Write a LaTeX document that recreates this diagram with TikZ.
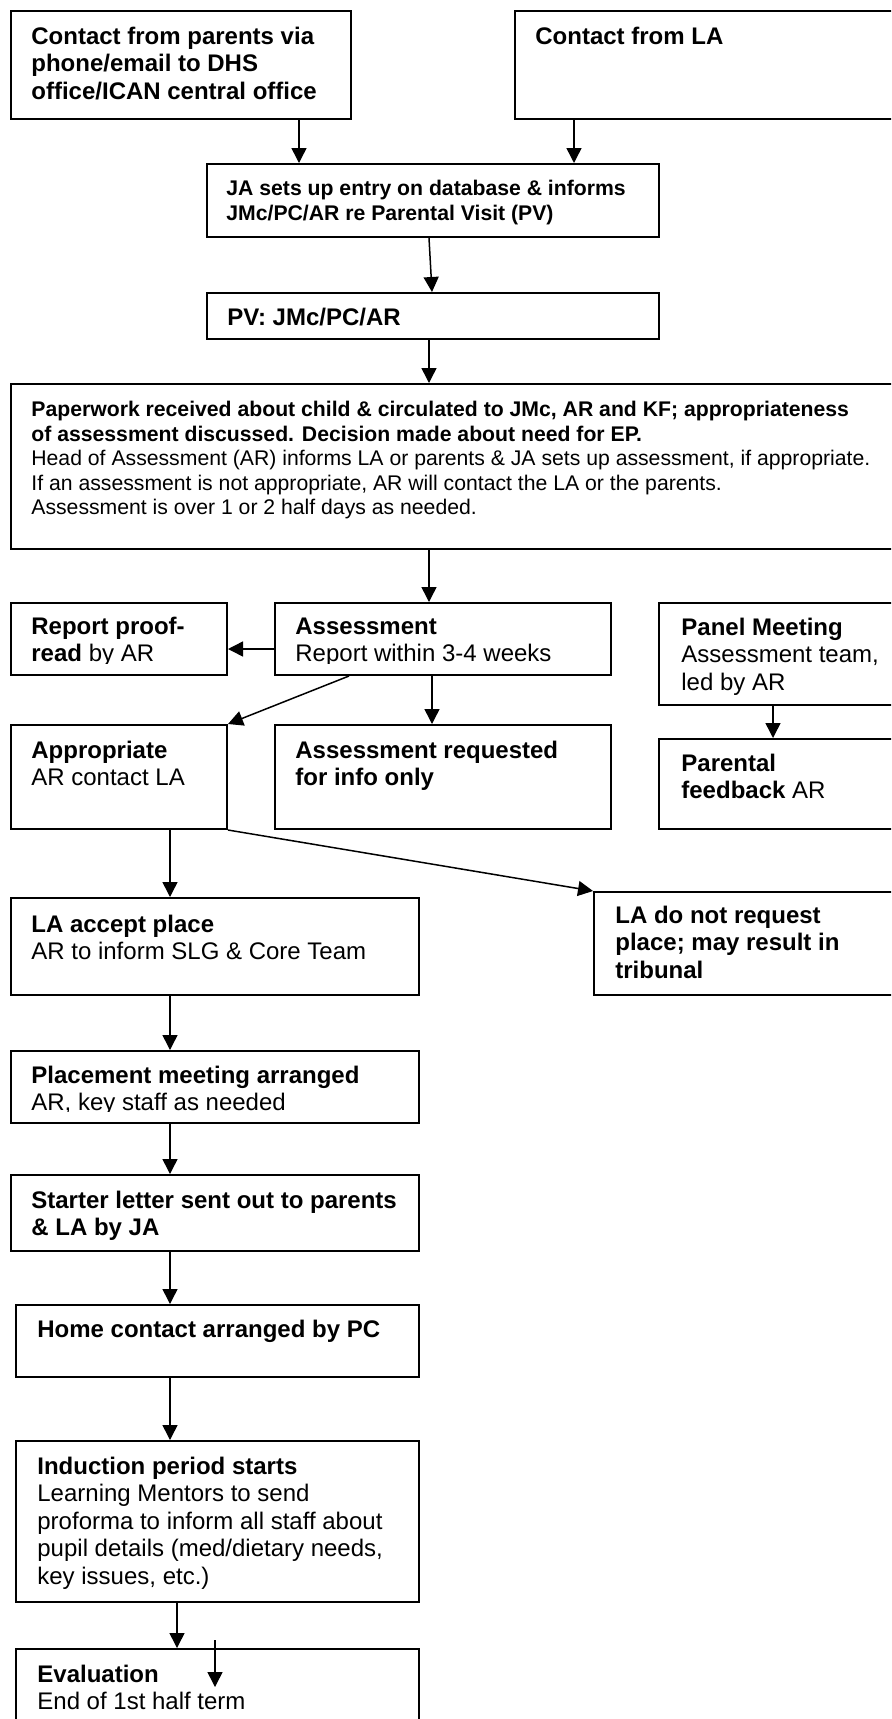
\documentclass[tikz,border=0pt]{standalone}
\usepackage{fontspec}
\setmainfont{Liberation Sans}
\usetikzlibrary{arrows.meta,fit}
\newcommand\fsA{\fontsize{12pt}{13.7pt}\selectfont}
\newcommand\fsB{\fontsize{10.6pt}{12.3pt}\selectfont}
\newcommand\rA{\rule{0pt}{10pt}}
\newcommand\rB{\rule{0pt}{9pt}}
\tikzset{
  box/.style={draw, line width=1pt, inner sep=0pt},
  txt/.style={anchor=north west, inner sep=0pt, align=left, font=\fsA},
  txts/.style={anchor=north west, inner sep=0pt, align=left, font=\fsB},
  arr/.style={-{Triangle[length=7.5pt,width=7.5pt]}, line width=0.75pt},
}
\begin{document}
\begin{tikzpicture}[x=0.5pt,y=-0.5pt]
\useasboundingbox (0,0) rectangle (891,1719);
\fill[white] (0,0) rectangle (891,1719);
\clip (0,0) rectangle (891,1719);

% boxes
\node[box, fit={(11,11)(351,119)}] (b1) {};
\node[box, fit={(515,11)(905,119)}] (b2) {};
\node[box, fit={(207,164)(659,237)}] (ja) {};
\node[box, fit={(207,293)(659,339)}] (pv) {};
\node[box, fit={(11,384)(905,549)}] (pw) {};
\node[box, fit={(11,603)(227,675)}] (pr) {};
\node[box, fit={(275,603)(611,675)}] (as) {};
\node[box, fit={(659,603)(905,705)}] (pm) {};
\node[box, fit={(11,725)(227,829)}] (ap) {};
\node[box, fit={(275,725)(611,829)}] (ar) {};
\node[box, fit={(659,739)(905,829)}] (pf) {};
\node[box, fit={(11,898)(419,995)}] (la) {};
\node[box, fit={(594,892)(905,995)}] (ln) {};
\node[box, fit={(11,1051)(419,1123)}] (pl) {};
\node[box, fit={(11,1175)(419,1251)}] (sl) {};
\node[box, fit={(16,1305)(419,1377)}] (hc) {};
\node[box, fit={(16,1441)(419,1602)}] (ip) {};
\node[box, fit={(16,1649)(419,1740)}] (ev) {};

% texts
\node[txt] (t1) at (31,24) {\rA\textbf{Contact from parents via}\\\textbf{phone/email to DHS}\\\textbf{office/ICAN central office}};
\node[txt] (t2) at (535,24) {\rA\textbf{Contact from LA}};
\node[txts] (t3) at (226,177) {\rB\textbf{JA sets up entry on database \& informs}\\\textbf{JMc/PC/AR re Parental Visit (PV)}};
\node[txt] (t4) at (227,305) {\rA\textbf{PV: JMc/PC/AR}};
\node[txts] (t5) at (31,398) {\rB\textbf{Paperwork received about child \& circulated to JMc, AR and KF; appropriateness}\\\textbf{of assessment discussed. Decision made about need for EP.}\\Head of Assessment (AR) informs LA or parents \& JA sets up assessment, if appropriate.\\If an assessment is not appropriate, AR will contact the LA or the parents.\\Assessment is over 1 or 2 half days as needed.};
\begin{scope}
\clip (11,603) rectangle (611,663.5);
\node[txt] (t6) at (31,614) {\rA\textbf{Report proof-}\\\textbf{read} by AR};
\node[txt] (t7) at (295,614) {\rA\textbf{Assessment}\\Report within 3-4 weeks};
\end{scope}
\node[txt] (t8) at (681,615) {\rA\textbf{Panel Meeting}\\Assessment team,\\led by AR};
\node[txt] (t9) at (31,738) {\rA\textbf{Appropriate}\\AR contact LA};
\node[txt] (t10) at (295,738) {\rA\textbf{Assessment requested}\\\textbf{for info only}};
\node[txt] (t11) at (681,751) {\rA\textbf{Parental}\\\textbf{feedback} AR};
\node[txt] (t12) at (31,912) {\rA\textbf{LA accept place}\\AR to inform SLG \& Core Team};
\node[txt] (t13) at (615,903) {\rA\textbf{LA do not request}\\\textbf{place; may result in}\\\textbf{tribunal}};
\begin{scope}
\clip (11,1051) rectangle (419,1111.5);
\node[txt] (t14) at (31,1063) {\rA\textbf{Placement meeting arranged}\\AR, key staff as needed};
\end{scope}
\node[txt] (t15) at (31,1188) {\rA\textbf{Starter letter sent out to parents}\\\textbf{\& LA by JA}};
\node[txt] (t16) at (37,1317) {\rA\textbf{Home contact arranged by PC}};
\node[txt] (t17) at (37,1454) {\rA\textbf{Induction period starts}\\Learning Mentors to send\\proforma to inform all staff about\\pupil details (med/dietary needs,\\key issues, etc.)};
\node[txt] (t18) at (37,1662) {\rA\textbf{Evaluation}\\End of 1st half term};

% connectors
\draw[arr] (299,0 |- b1.south) -- (299,0 |- ja.north);
\draw[arr] (574,0 |- b2.south) -- (574,0 |- ja.north);
\draw[arr] (429,0 |- ja.south) -- (432,0 |- pv.north);
\draw[arr] (429,0 |- pv.south) -- (429,0 |- pw.north);
\draw[arr] (429,0 |- pw.south) -- (429,0 |- as.north);
\draw[arr] (as.west |- 0,649) -- (pr.east |- 0,649);
\draw[arr] (432,0 |- as.south) -- (432,0 |- ar.north);
\draw[arr] (349,0 |- as.south) -- (ap.north east);
\draw[arr] (773,0 |- pm.south) -- (773,0 |- pf.north);
\draw[arr] (170,0 |- ap.south) -- (170,0 |- la.north);
\draw[arr] (ap.south east) -- (ln.north west);
\draw[arr] (170,0 |- la.south) -- (170,0 |- pl.north);
\draw[arr] (170,0 |- pl.south) -- (170,0 |- sl.north);
\draw[arr] (170,0 |- sl.south) -- (170,0 |- hc.north);
\draw[arr] (170,0 |- hc.south) -- (170,0 |- ip.north);
\draw[arr] (177,0 |- ip.south) -- (177,0 |- ev.north);
\coordinate (e1) at (215,1640);
\coordinate (e2) at (215,1687);
\draw[arr] (e1) -- (e2);
\end{tikzpicture}
\end{document}
